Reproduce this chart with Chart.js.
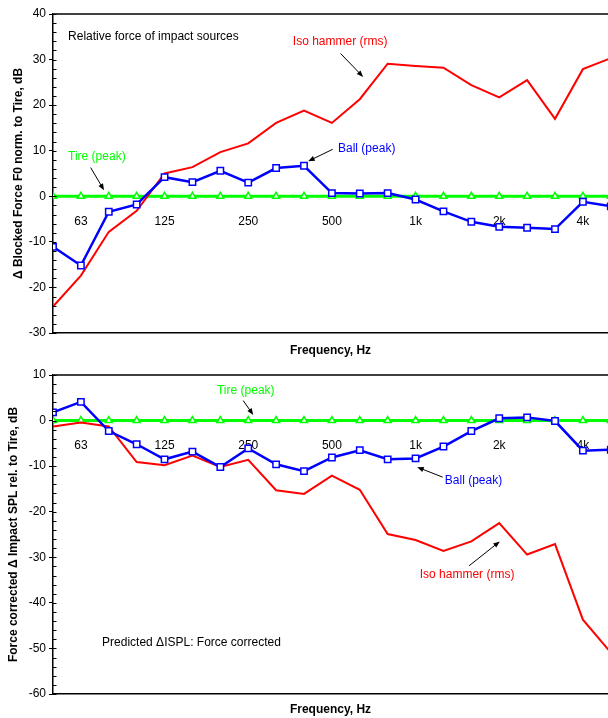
<!DOCTYPE html>
<html>
<head>
<meta charset="utf-8">
<script src="https://cdn.jsdelivr.net/npm/chart.js@4/dist/chart.umd.min.js"></script>
<style>
html, body { margin: 0; padding: 0; background: #fff; }
#caja1 { position: absolute; left: 0; top: 0; width: 608px; height: 360px; }
#caja2 { position: absolute; left: 0; top: 360px; width: 608px; height: 358px; }
</style>
</head>
<body>
<div id="caja1"><canvas id="graficoFuerza"></canvas></div>
<div id="caja2"><canvas id="graficoSPL"></canvas></div>
<script>
// bandas de tercio de octava, 50 Hz .. 5 kHz (la de 5k queda cortada por el borde)
const BANDAS = ['50', '63', '80', '100', '125', '160', '200', '250', '315', '400', '500',
                '630', '800', '1k', '1.25k', '1.6k', '2k', '2.5k', '3.15k', '4k', '5k'];
const POS_ETIQUETAS = [1, 4, 7, 10, 13, 16, 19];
const ETIQUETAS_EJE = ['63', '125', '250', '500', '1k', '2k', '4k'];

// grafico de arriba: fuerza relativa
const fuerzaHammer = [-24.2, -17.4, -7.8, -3.2, 5.0, 6.4, 9.7, 11.6, 16.1, 18.8, 16.1,
                      21.3, 29.1, 28.6, 28.2, 24.4, 21.7, 25.5, 17.0, 27.9, 30.3];
const fuerzaBall = [-11.1, -15.2, -3.4, -1.8, 4.2, 3.1, 5.6, 3.0, 6.2, 6.7, 0.7,
                    0.6, 0.7, -0.7, -3.3, -5.6, -6.7, -6.9, -7.2, -1.2, -2.2];
const fuerzaTire = [0, 0, 0, 0, 0, 0, 0, 0, 0, 0, 0, 0, 0, 0, 0, 0, 0, 0, 0, 0, 0];

// grafico de abajo: SPL corregido por fuerza
const splHammer = [-1.3, -0.4, -1.3, -9.1, -9.8, -7.7, -10.2, -8.6, -15.3, -16.1, -12.1,
                   -15.2, -24.9, -26.2, -28.6, -26.5, -22.5, -29.4, -27.1, -43.7, -50.9];
const splBall = [1.8, 4.1, -2.3, -5.2, -8.5, -6.8, -10.2, -6.1, -9.6, -11.1, -8.1,
                 -6.5, -8.5, -8.3, -5.7, -2.3, 0.5, 0.7, -0.1, -6.6, -6.4];
const splTire = [0, 0, 0, 0, 0, 0, 0, 0, 0, 0, 0, 0, 0, 0, 0, 0, 0, 0, 0, 0, 0];

const ROJO = '#ff0000';
const AZUL = '#0000ff';
const VERDE = '#00ff00';
const FAMILIA = "'Liberation Sans', Arial, sans-serif";
const fuente = { family: FAMILIA, size: 12 };
const fuenteNegrita = { family: FAMILIA, size: 12, weight: 'bold' };

function puntos(valores) {
    return valores.map((v, i) => ({ x: i, y: v }));
}

function flecha(ctx, x1, y1, x2, y2) {
    const ang = Math.atan2(y2 - y1, x2 - x1);
    ctx.beginPath();
    ctx.moveTo(x1, y1);
    ctx.lineTo(x2 - 4 * Math.cos(ang), y2 - 4 * Math.sin(ang));
    ctx.stroke();
    ctx.beginPath();
    ctx.moveTo(x2, y2);
    ctx.lineTo(x2 - 7 * Math.cos(ang - 0.38), y2 - 7 * Math.sin(ang - 0.38));
    ctx.lineTo(x2 - 7 * Math.cos(ang + 0.38), y2 - 7 * Math.sin(ang + 0.38));
    ctx.closePath();
    ctx.fill();
}

// marco superior, marcas menores del eje y, textos y flechas
const anotaciones = {
    id: 'anotaciones',
    afterDraw(chart, args, opts) {
        const ctx = chart.ctx;
        const area = chart.chartArea;
        const sx = chart.scales.x;
        const sy = chart.scales.y;
        ctx.save();
        ctx.strokeStyle = '#404040';
        ctx.lineWidth = 2;
        ctx.beginPath();
        ctx.moveTo(area.left, area.top);
        ctx.lineTo(area.right, area.top);
        ctx.stroke();

        ctx.strokeStyle = '#000';
        ctx.lineWidth = 1;
        for (let v = sy.min; v <= sy.max; v += 2) {
            const py = Math.round(sy.getPixelForValue(v)) + 0.5;
            ctx.beginPath();
            ctx.moveTo(area.left, py);
            ctx.lineTo(area.left + 3.5, py);
            ctx.stroke();
        }

        ctx.font = "12px " + FAMILIA;
        ctx.textBaseline = 'middle';
        ctx.textAlign = 'left';
        for (const n of opts.notas) {
            ctx.fillStyle = n.color;
            ctx.fillText(n.texto, sx.getPixelForValue(n.x), sy.getPixelForValue(n.y));
        }
        ctx.strokeStyle = '#000';
        ctx.fillStyle = '#000';
        ctx.lineWidth = 1;
        for (const f of opts.flechas) {
            flecha(ctx, sx.getPixelForValue(f.x1), sy.getPixelForValue(f.y1),
                   sx.getPixelForValue(f.x2), sy.getPixelForValue(f.y2));
        }
        ctx.restore();
    }
};

function crearGrafico(idCanvas, hammer, ball, tire, cfg) {
    const ctx = document.getElementById(idCanvas).getContext('2d');
    return new Chart(ctx, {
        type: 'line',
        data: {
            datasets: [{
                label: 'Ball (peak)',
                data: puntos(ball),
                borderColor: AZUL,
                borderWidth: 2.5,
                pointStyle: 'rect',
                pointRadius: 4.5,
                pointBorderWidth: 1.5,
                pointBackgroundColor: '#fff',
                pointBorderColor: AZUL,
                order: 0
            }, {
                label: 'Iso hammer (rms)',
                data: puntos(hammer),
                borderColor: ROJO,
                borderWidth: 2,
                pointRadius: 0,
                order: 1
            }, {
                label: 'Tire (peak)',
                data: puntos(tire),
                borderColor: VERDE,
                borderWidth: 3,
                pointStyle: 'triangle',
                pointRadius: 4,
                pointBorderWidth: 1.5,
                pointBackgroundColor: '#fff',
                pointBorderColor: VERDE,
                order: 2
            }]
        },
        options: {
            responsive: true,
            maintainAspectRatio: false,
            animation: false,
            layout: {
                autoPadding: false,
                padding: { top: cfg.arriba, left: 0, right: 0, bottom: 0 }
            },
            plugins: {
                legend: { display: false },
                tooltip: { enabled: false },
                anotaciones: { notas: cfg.notas, flechas: cfg.flechas }
            },
            scales: {
                x: {
                    type: 'linear',
                    position: { y: 0 },
                    min: 0,
                    max: 19.9,
                    afterBuildTicks: s => { s.ticks = POS_ETIQUETAS.map(v => ({ value: v })); },
                    afterFit: s => { s.paddingLeft = 0; s.paddingRight = 0; },
                    ticks: {
                        callback: (v, i) => ETIQUETAS_EJE[i],
                        color: '#000',
                        font: fuente,
                        padding: 10,
                        maxRotation: 0,
                        autoSkip: false
                    },
                    grid: { display: false },
                    border: { display: false }
                },
                xTitulo: {
                    axis: 'x',
                    type: 'linear',
                    position: 'bottom',
                    min: 0,
                    max: 19.9,
                    ticks: { display: false },
                    grid: { display: false },
                    border: { color: '#000', width: 1.5 },
                    title: {
                        display: true,
                        text: 'Frequency, Hz',
                        color: '#000',
                        font: fuenteNegrita,
                        padding: { top: 0, bottom: cfg.tituloAbajo }
                    },
                    afterFit: s => { s.height = cfg.altoEjeX; s.paddingLeft = 0; s.paddingRight = 0; }
                },
                y: {
                    min: cfg.min,
                    max: cfg.max,
                    ticks: { stepSize: 10, color: '#000', font: fuente, padding: 3 },
                    grid: { drawOnChartArea: false, tickLength: 4, tickColor: '#000', tickWidth: 1 },
                    border: { color: '#000', width: 1.5 },
                    title: {
                        display: true,
                        text: cfg.tituloY,
                        color: '#000',
                        font: fuenteNegrita,
                        padding: { top: cfg.tituloIzq, bottom: 0 }
                    },
                    afterFit: s => { s.width = 53; }
                }
            }
        },
        plugins: [anotaciones]
    });
}

crearGrafico('graficoFuerza', fuerzaHammer, fuerzaBall, fuerzaTire, {
    min: -30, max: 40, arriba: 14, altoEjeX: 27, tituloAbajo: 2, tituloIzq: 11,
    tituloY: '\u0394 Blocked Force F0 norm. to Tire, dB',
    notas: [
        { texto: 'Relative force of impact sources', x: 0.54, y: 35.0, color: '#000' },
        { texto: 'Iso hammer (rms)', x: 8.60, y: 33.9, color: ROJO },
        { texto: 'Ball (peak)', x: 10.22, y: 10.48, color: AZUL },
        { texto: 'Tire (peak)', x: 0.54, y: 8.63, color: VERDE }
    ],
    flechas: [
        { x1: 10.31, y1: 31.34, x2: 11.12, y2: 26.2 },
        { x1: 10.03, y1: 10.32, x2: 9.15, y2: 7.69 },
        { x1: 1.35, y1: 6.30, x2: 1.83, y2: 1.32 }
    ]
});

crearGrafico('graficoSPL', splHammer, splBall, splTire, {
    min: -60, max: 10, arriba: 15, altoEjeX: 24, tituloAbajo: 1, tituloIzq: 6,
    tituloY: 'Force corrected \u0394 Impact SPL rel. to Tire, dB',
    notas: [
        { texto: 'Tire (peak)', x: 5.88, y: 6.51, color: VERDE },
        { texto: 'Ball (peak)', x: 14.05, y: -13.22, color: AZUL },
        { texto: 'Iso hammer (rms)', x: 13.15, y: -33.83, color: ROJO },
        { texto: 'Predicted \u0394ISPL: Force corrected', x: 1.76, y: -48.67, color: '#000' }
    ],
    flechas: [
        { x1: 6.82, y1: 4.39, x2: 7.18, y2: 1.25 },
        { x1: 13.97, y1: -12.41, x2: 13.06, y2: -10.22 },
        { x1: 14.92, y1: -31.86, x2: 16.02, y2: -26.53 }
    ]
});
</script>
</body>
</html>
